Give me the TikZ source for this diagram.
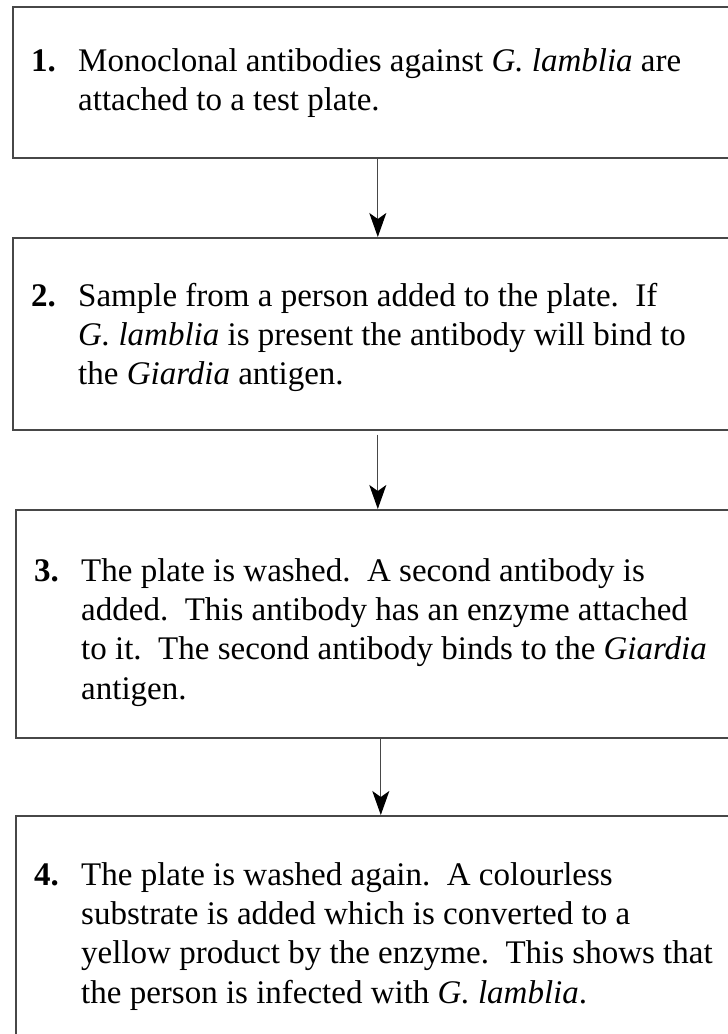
\documentclass[tikz,border=0pt]{standalone}
\usepackage{fontspec}
\setmainfont{Liberation Serif}
\usetikzlibrary{arrows.meta}
\tikzset{
  box/.style={draw=black!72, line width=1.6bp, rectangle, inner sep=0pt, anchor=north west},
  txt/.style={anchor=base west, inner sep=0pt, font=\fontsize{33bp}{39.4bp}\selectfont},
  arr/.style={draw=black!72, line width=1.3bp, -{Stealth[length=24bp, width=17bp, inset=6bp, fill=black, color=black]}}
}
\newcommand{\numlbl}[1]{\makebox[47bp][l]{\textbf{#1}}}
\newcommand{\ind}{\hspace*{47bp}}
\newcommand{\ssp}{\ \ }
\begin{document}
\begin{tikzpicture}[x=1bp,y=-1bp]
\useasboundingbox (0,0) rectangle (728,1034);
\clip (0,0) rectangle (728,1034);
\fill[white] (0,0) rectangle (728,1034);
% boxes
\node[box, minimum width=730bp, minimum height=151bp] (box1) at (12,6) {};
\node[box, minimum width=730bp, minimum height=192bp] (box2) at (12,237) {};
\node[box, minimum width=730bp, minimum height=228bp] (box3) at (15,509) {};
\node[box, minimum width=730bp, minimum height=240bp] (box4) at (15,815) {};
% texts
\node[txt] (t1) at (31,71) {\parbox[t]{700bp}{\numlbl{1.}Monoclonal antibodies against \textit{G. lamblia} are\\
\ind attached to a test plate.}};
\node[txt] (t2) at (31,306) {\parbox[t]{700bp}{\numlbl{2.}Sample from a person added to the plate.\ssp If\\
\ind\textit{G. lamblia} is present the antibody will bind to\\
\ind the \textit{Giardia} antigen.}};
\node[txt] (t3) at (34,581) {\parbox[t]{700bp}{\numlbl{3.}The plate is washed.\ssp A second antibody is\\
\ind added.\ssp This antibody has an enzyme attached\\
\ind to it.\ssp The second antibody binds to the \textit{Giardia}\\
\ind antigen.}};
\node[txt] (t4) at (34,885) {\parbox[t]{700bp}{\numlbl{4.}The plate is washed again.\ssp A colourless\\
\ind substrate is added which is converted to a\\
\ind yellow product by the enzyme.\ssp This shows that\\
\ind the person is infected with \textit{G. lamblia}.}};
% connectors
\draw[arr] (box1.south) -- (box2.north);
\draw[arr, shorten <=4bp] (box2.south) -- (box2.south |- box3.north);
\draw[arr] (box3.south) -- (box4.north);
\end{tikzpicture}
\end{document}
